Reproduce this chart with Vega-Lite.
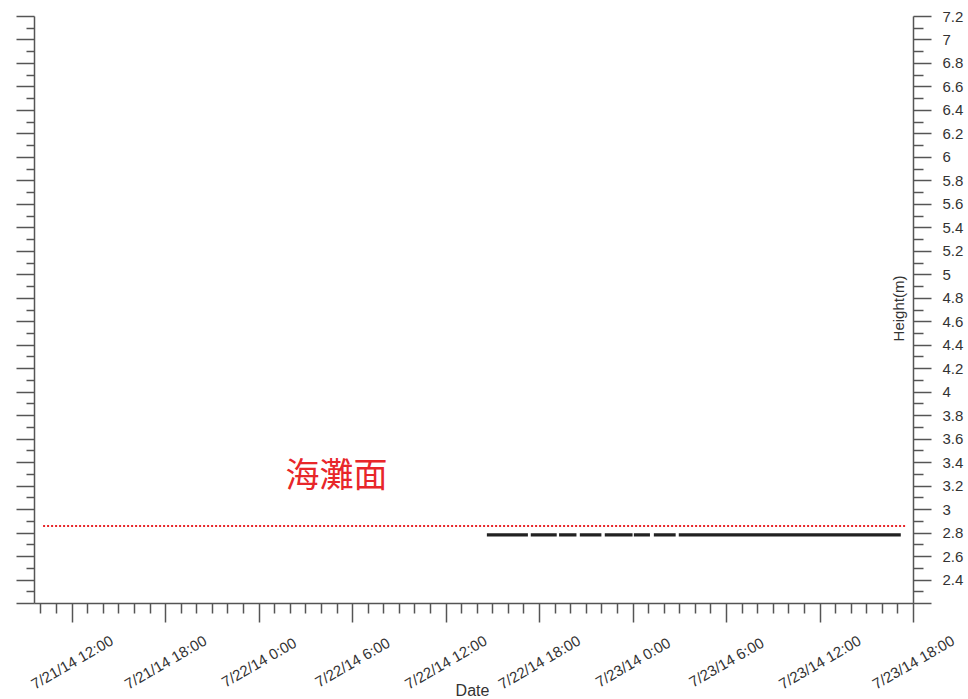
{
  "$schema": "https://vega.github.io/schema/vega-lite/v6.json",
  "autosize": "none",
  "width": 879,
  "height": 587,
  "padding": {"left": 34, "top": 16, "right": 55, "bottom": 96},
  "background": "white",
  "config": {
    "view": {"stroke": null},
    "font": "Liberation Sans",
    "axis": {"domainColor": "#555", "tickColor": "#555", "domainWidth": 1.5, "tickWidth": 1.5, "grid": false, "labelColor": "#333", "titleColor": "#333", "labelFont": "Liberation Sans", "titleFont": "Liberation Sans", "titleFontWeight": "normal"}
  },
  "datasets": {
    "series": [
      {"time": "2014-07-22T14:39:00", "h": 2.78},
      {"time": "2014-07-22T17:17:00", "h": 2.78},
      {"time": "2014-07-22T17:22:00", "h": null},
      {"time": "2014-07-22T17:28:00", "h": 2.78},
      {"time": "2014-07-22T19:08:00", "h": 2.78},
      {"time": "2014-07-22T19:12:00", "h": null},
      {"time": "2014-07-22T19:17:00", "h": 2.78},
      {"time": "2014-07-22T20:24:00", "h": 2.78},
      {"time": "2014-07-22T20:30:00", "h": null},
      {"time": "2014-07-22T20:37:00", "h": 2.78},
      {"time": "2014-07-22T22:00:00", "h": 2.78},
      {"time": "2014-07-22T22:06:00", "h": null},
      {"time": "2014-07-22T22:13:00", "h": 2.78},
      {"time": "2014-07-23T00:00:00", "h": 2.78},
      {"time": "2014-07-23T00:02:00", "h": null},
      {"time": "2014-07-23T00:05:00", "h": 2.78},
      {"time": "2014-07-23T01:07:00", "h": 2.78},
      {"time": "2014-07-23T01:14:00", "h": null},
      {"time": "2014-07-23T01:22:00", "h": 2.78},
      {"time": "2014-07-23T02:46:00", "h": 2.78},
      {"time": "2014-07-23T02:52:00", "h": null},
      {"time": "2014-07-23T02:58:00", "h": 2.78},
      {"time": "2014-07-23T17:13:00", "h": 2.78}
    ],
    "beach": [
      {"time": "2014-07-21T10:10:00", "h": 2.855},
      {"time": "2014-07-23T17:33:00", "h": 2.855}
    ],
    "label": [
      {"time": "2014-07-22T05:00:00", "h": 3.27, "text": "海灘面"}
    ]
  },
  "resolve": {"scale": {"x": "independent", "y": "independent"}},
  "layer": [
    {
      "data": {"name": "series"},
      "mark": {"type": "line", "color": "#222", "strokeWidth": 3.2},
      "encoding": {
        "x": {
          "field": "time", "type": "temporal",
          "scale": {"domain": [{"year": 2014, "month": 7, "date": 21, "hours": 9, "minutes": 35}, {"year": 2014, "month": 7, "date": 23, "hours": 18}], "nice": false},
          "axis": {
            "orient": "bottom",
            "title": "Date",
            "titleFontSize": 16,
            "titleX": 438,
            "titleY": 87,
            "titleBaseline": "middle",
            "titleAlign": "center",
            "tickCount": 56,
            "tickSize": 19,
            "tickDash": {"condition": {"test": "hours(datum.value) % 6 == 0", "value": [19, 0]}, "value": [10, 30]},
            "labelExpr": "hours(datum.value) % 6 == 0 ? timeFormat(datum.value, '%-m/%-d/%y %-H:%M') : ''",
            "labelAngle": -30,
            "labelAlign": "center",
            "labelBaseline": "middle",
            "labelPadding": 40,
            "labelFontSize": 15,
            "labelOverlap": false,
            "labelFlush": false,
            "labelBound": false
          }
        },
        "y": {
          "field": "h", "type": "quantitative",
          "scale": {"domain": [2.2, 7.2], "nice": false, "zero": false},
          "axis": {
            "orient": "left",
            "title": null,
            "labels": false,
            "tickCount": 50,
            "tickSize": 18,
            "tickDash": {"condition": {"test": "round(datum.value * 10) % 2 == 0", "value": [18, 0]}, "value": [8, 30]}
          }
        }
      }
    },
    {
      "data": {"name": "beach"},
      "mark": {"type": "line", "color": "#e8262a", "strokeWidth": 2, "strokeDash": [2, 2]},
      "encoding": {
        "x": {
          "field": "time", "type": "temporal",
          "scale": {"domain": [{"year": 2014, "month": 7, "date": 21, "hours": 9, "minutes": 35}, {"year": 2014, "month": 7, "date": 23, "hours": 18}], "nice": false},
          "axis": null
        },
        "y": {
          "field": "h", "type": "quantitative",
          "scale": {"domain": [2.2, 7.2], "nice": false, "zero": false},
          "axis": {
            "orient": "right",
            "title": "Height(m)",
            "titleFontSize": 15,
            "titleAngle": -90,
            "titleX": -15,
            "titleY": 292,
            "titleAlign": "center",
            "titleBaseline": "middle",
            "tickCount": 50,
            "tickSize": 18,
            "tickDash": {"condition": {"test": "round(datum.value * 10) % 2 == 0", "value": [18, 0]}, "value": [10, 30]},
            "labelExpr": "round(datum.value * 10) % 2 == 0 && datum.value > 2.3 ? format(datum.value, '~g') : ''",
            "labelPadding": 11,
            "labelFontSize": 15,
            "labelOverlap": false,
            "labelFlush": false,
            "labelBound": false
          }
        }
      }
    },
    {
      "data": {"name": "label"},
      "mark": {"type": "text", "font": "Noto Sans CJK TC", "fontSize": 34, "color": "#e8262a", "align": "center", "baseline": "middle"},
      "encoding": {
        "x": {
          "field": "time", "type": "temporal",
          "scale": {"domain": [{"year": 2014, "month": 7, "date": 21, "hours": 9, "minutes": 35}, {"year": 2014, "month": 7, "date": 23, "hours": 18}], "nice": false},
          "axis": null
        },
        "y": {
          "field": "h", "type": "quantitative",
          "scale": {"domain": [2.2, 7.2], "nice": false, "zero": false},
          "axis": null
        },
        "text": {"field": "text"}
      }
    }
  ]
}
